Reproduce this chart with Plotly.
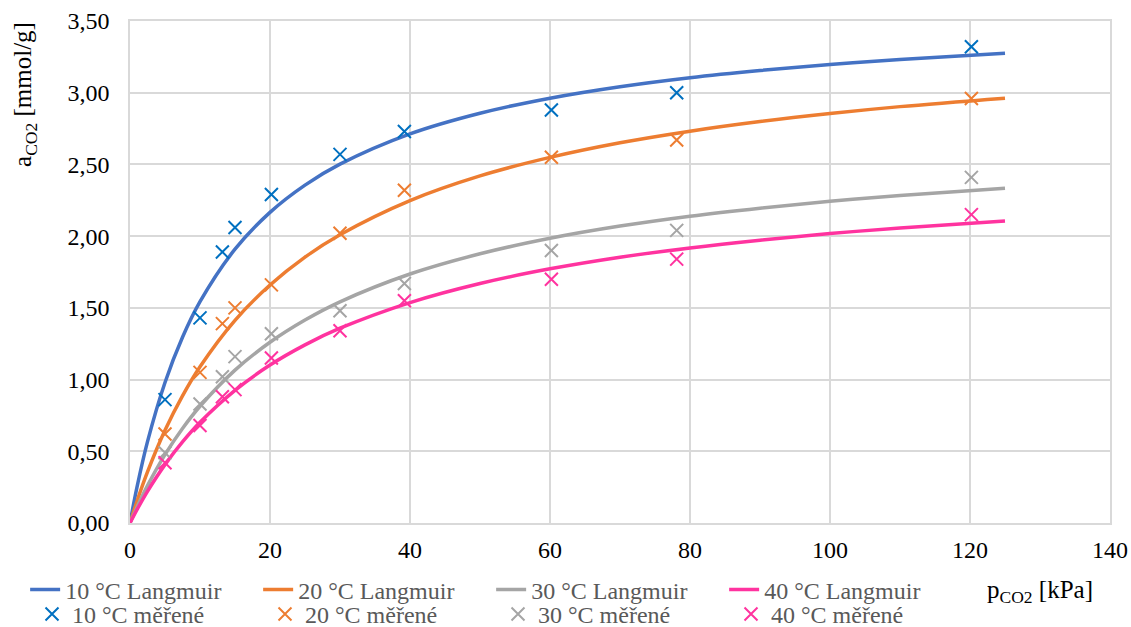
import plotly.graph_objects as go

# Measured pressures [kPa]
p_measured = [5.0, 10.0, 13.2, 15.0, 20.2, 30.0, 39.2, 60.2, 78.1, 120.2]
a10_measured = [0.86, 1.43, 1.89, 2.06, 2.29, 2.57, 2.73, 2.88, 3.00, 3.32]
a20_measured = [0.62, 1.05, 1.39, 1.50, 1.66, 2.02, 2.32, 2.55, 2.67, 2.96]
a30_measured = [0.49, 0.83, 1.02, 1.16, 1.32, 1.48, 1.67, 1.90, 2.04, 2.41]
a40_measured = [0.42, 0.68, 0.88, 0.93, 1.15, 1.34, 1.55, 1.70, 1.84, 2.15]

# Langmuir curves
p_curve = [0, 1, 2.5, 5, 7.5, 10, 15, 20, 25, 30, 40, 50, 60, 70, 80, 90, 100, 110, 125]
a10_langmuir = [0, 0.250, 0.567, 0.980, 1.295, 1.543, 1.909, 2.166, 2.356, 2.502, 2.713, 2.857, 2.962, 3.042, 3.105, 3.155, 3.197, 3.232, 3.275]
a20_langmuir = [0, 0.152, 0.356, 0.646, 0.886, 1.089, 1.413, 1.659, 1.854, 2.010, 2.248, 2.420, 2.549, 2.651, 2.732, 2.799, 2.855, 2.903, 2.962]
a30_langmuir = [0, 0.110, 0.261, 0.477, 0.659, 0.814, 1.066, 1.260, 1.415, 1.542, 1.736, 1.877, 1.985, 2.070, 2.139, 2.195, 2.243, 2.283, 2.334]
a40_langmuir = [0, 0.093, 0.221, 0.407, 0.565, 0.702, 0.925, 1.101, 1.242, 1.358, 1.537, 1.670, 1.772, 1.853, 1.918, 1.972, 2.018, 2.057, 2.106]

temps = ["10 °C", "20 °C", "30 °C", "40 °C"]
line_colors = ["#4472C4", "#ED7D31", "#A5A5A5", "#FF339F"]
marker_colors = ["#0070C0", "#ED7D31", "#A5A5A5", "#FF339F"]
curves = [a10_langmuir, a20_langmuir, a30_langmuir, a40_langmuir]
measured = [a10_measured, a20_measured, a30_measured, a40_measured]

FONT = "'Liberation Serif', 'Times New Roman', Tinos, serif"

fig = go.Figure()
for t, c, ys in zip(temps, line_colors, curves):
    fig.add_trace(go.Scatter(
        x=p_curve, y=ys, mode="lines", name=f"{t} Langmuir",
        line=dict(color=c, width=3.5, shape="spline", smoothing=1.0),
        legend="legend"))
for t, c, ys in zip(temps, marker_colors, measured):
    fig.add_trace(go.Scatter(
        x=p_measured, y=ys, mode="markers", name=f"{t} měřené",
        marker=dict(symbol="x-thin", size=13, color=c, line=dict(color=c, width=2)),
        legend="legend2"))

axis_common = dict(
    showgrid=True, gridcolor="#D9D9D9", gridwidth=1.5,
    showline=True, linecolor="#D9D9D9", linewidth=1.5,
    zeroline=False, ticks="",
    tickfont=dict(family=FONT, size=24, color="#000000"),
)

fig.update_layout(
    width=1131, height=627,
    margin=dict(l=130, r=21, t=21, b=104, autoexpand=False),
    paper_bgcolor="white", plot_bgcolor="white",
    separators=", ",
    font=dict(family=FONT, size=24, color="#000000"),
    xaxis=dict(range=[0, 140], tickvals=[0, 20, 40, 60, 80, 100, 120, 140],
               mirror=True, automargin=False, ticklabelstandoff=4, **axis_common),
    yaxis=dict(range=[0, 3.5], tickvals=[0, 0.5, 1.0, 1.5, 2.0, 2.5, 3.0, 3.5],
               tickformat=".2f", mirror=True, automargin=False, ticklabelstandoff=14,
               **axis_common),
    legend=dict(orientation="h", x=-0.107, xanchor="left", y=-0.1335, yanchor="middle",
                entrywidth=188, entrywidthmode="pixels", tracegroupgap=0,
                font=dict(family=FONT, size=24, color="#595959"),
                bgcolor="rgba(0,0,0,0)"),
    legend2=dict(orientation="h", x=-0.1, xanchor="left", y=-0.182, yanchor="middle",
                 entrywidth=188, entrywidthmode="pixels",
                 font=dict(family=FONT, size=24, color="#595959"),
                 bgcolor="rgba(0,0,0,0)"),
    showlegend=True,
    annotations=[
        dict(text="a<sub>CO2</sub> [mmol/g]", xref="paper", yref="paper",
             x=-0.107, y=0.853, xanchor="center", yanchor="middle", textangle=-90,
             showarrow=False, font=dict(family=FONT, size=25, color="#000000")),
        dict(text="p<sub>CO2</sub> [kPa]", xref="paper", yref="paper",
             x=0.985, y=-0.137, xanchor="right", yanchor="middle",
             showarrow=False, font=dict(family=FONT, size=25, color="#000000")),
    ],
)

fig.write_html("out.html")
